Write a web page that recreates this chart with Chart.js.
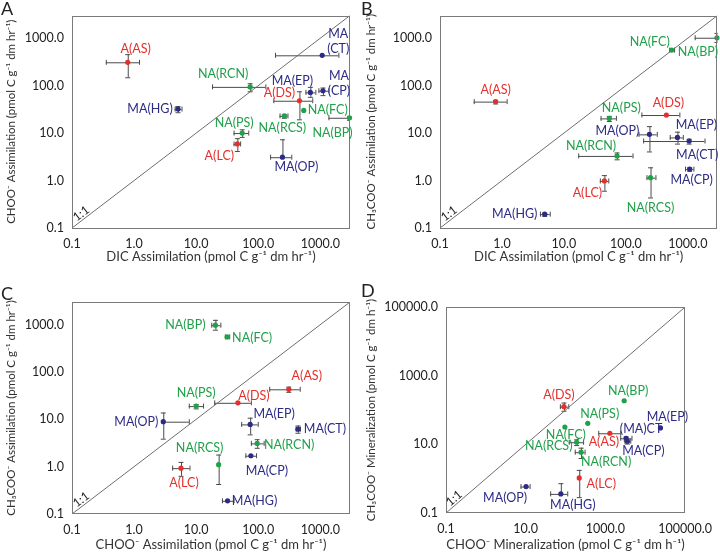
<!DOCTYPE html>
<html>
<head>
<meta charset="utf-8">
<script src="https://cdn.jsdelivr.net/npm/chart.js@4.4.1/dist/chart.umd.min.js"></script>
<style>
  body { margin: 0; background: #fff; }
  #wrap { position: relative; width: 720px; height: 559px; overflow: hidden; }
  canvas { position: absolute; }
</style>
</head>
<body>
<div id="wrap">
  <canvas id="chartA" width="360" height="279" style="left:0;top:0"></canvas>
  <canvas id="chartB" width="360" height="279" style="left:360px;top:0"></canvas>
  <canvas id="chartC" width="360" height="280" style="left:0;top:279px"></canvas>
  <canvas id="chartD" width="360" height="280" style="left:360px;top:279px"></canvas>
</div>
<script>
// Panel A - CHOO- vs DIC assimilation
const aNames = ['A(AS)', 'MA(HG)', 'NA(RCN)', 'NA(PS)', 'A(LC)', 'MA(OP)', 'NA(RCS)', 'NA(FC)', 'A(DS)', 'MA(EP)', 'MA\n(CP)', 'MA\n(CT)', 'NA(BP)'];
const aX = [0.79, 5.1, 74, 55, 46, 245, 263, 540, 460, 690, 1100, 1070, 2950];
const aY = [310, 32, 94, 10, 5.9, 3.1, 23, 30, 48, 72, 78, 435, 21];
const aXErr = [[0.35, 1.2], [4.5, 5.8], [18, 130], [40, 69], [40, 51], [155, 340], [220, 295], null, [175, 740], [575, 830], [930, 1350], [186, 1950], [1350, 4000]];
const aYErr = [[150, 460], [27.5, 37], [76, 112], [8.3, 12], [4.2, 7.8], [null, 7.4], [21, 25], null, [19.5, 76], [58, 94], [63, 91], null, [19, 23]];

// Panel B - CH3COO- vs DIC assimilation
const bNames = ['A(AS)', 'NA(FC)', 'NA(BP)', 'NA(PS)', 'A(DS)', 'MA(OP)', 'MA(EP)', 'MA(CT)', 'NA(RCN)', 'MA(CP)', 'NA(RCS)', 'A(LC)', 'MA(HG)'];
const bX = [0.79, 550, 2950, 54, 450, 240, 680, 1050, 72, 1070, 250, 45, 4.9];
const bY = [46, 560, 1020, 20.4, 24, 9.4, 8.1, 6.8, 3.3, 1.74, 1.15, 0.98, 0.196];
const bXErr = [[0.35, 1.19], [500, 600], [1290, 4000], [39, 69], [178, 730], [160, 315], [510, 830], [190, 1860], [17, 128], [900, 1230], [215, 300], [38, 52], [4.1, 5.9]];
const bYErr = [[42, 50], null, [830, 1290], [18, 23], null, [4.1, 14], [6.0, 10.7], [6.0, 7.6], [2.8, 3.9], [1.6, 1.9], [0.44, 1.9], [0.61, 1.3], [0.18, 0.21]];

// Panel C - CH3COO- vs CHOO- assimilation
const cNames = ['NA(BP)', 'NA(FC)', 'A(AS)', 'A(DS)', 'NA(PS)', 'MA(OP)', 'MA(EP)', 'MA(CT)', 'NA(RCN)', 'MA(CP)', 'NA(RCS)', 'A(LC)', 'MA(HG)'];
const cX = [20.4, 31.5, 310, 47, 10, 2.95, 74, 435, 96, 76, 23, 5.7, 32];
const cY = [970, 550, 43, 22.3, 19, 8.9, 7.8, 6.2, 3.1, 1.7, 1.1, 0.93, 0.19];
const cXErr = [[17.5, 24.5], [29, 34], [150, 465], [19.5, 76], [7.6, 12.9], [null, 7.6], [53, 98], [400, 470], [76, 122], [62, 92], null, [4.1, 7.8], [26, 40]];
const cYErr = [[780, 1260], null, [38, 49], null, [17, 21], [3.9, 13.9], [4.8, 10.8], [5.2, 7.4], [2.5, 3.8], null, [0.43, 1.8], [0.64, 1.26], null];

// Panel D - mineralization
const dNames = ['A(DS)', 'NA(BP)', 'NA(PS)', 'MA(EP)', 'NA(FC)', 'A(AS)', '(MA)CT', 'MA(CP)', 'NA(RCS)', 'NA(RCN)', 'A(LC)', 'MA(OP)', 'MA(HG)'];
const dX = [91, 2950, 360, 24000, 96, 1290, 3300, 3550, 190, 245, 220, 10.2, 76];
const dY = [125, 186, 41, 30, 32, 21, 15, 12.3, 11.5, 5.9, 1.05, 0.59, 0.36];
const dXErr = [[72, 117], null, null, null, null, [660, 2350], [2350, 4500], [3000, 4200], [120, 275], [170, 300], null, [7.4, 12.5], [41, 110]];
const dYErr = [[95, 165], null, null, null, null, null, [13, 17], [10.5, 14], [9.5, 14], [4, 8], [0.29, 1.8], null, [null, 0.74]];

const abcTicks = [0.1, 1, 10, 100, 1000];
const dTicks = [0.1, 10, 1000, 100000];

// label offsets (px from the marker to the label centre)
const aLabelPos = [[8, -13], [-28, 0], [-27, -13], [-8, -10], [-18, 12], [14, 10], [-2, 12], [24, 0], [-20, -8], [-18, -11], [16, -7], [16, -14], [-17, 15]];
const bLabelPos = [[0, -12], [-22, -8], [-19, 14], [12, -10], [2, -12], [-32, -3], [19, -12], [8, 14], [-26, -10], [2, 11], [0, 30], [-17, 12], [-30, 0]];
const cLabelPos = [[-30, 0], [25, 1], [18, -13], [16, -7], [0, -13], [-27, 0], [24, -10], [27, 0], [32, 2], [16, 15], [-19, -17], [3, 15], [27, 0]];
const dLabelPos = [[-5, -12], [4, -10], [12, -9], [7, -11], [1, 8], [-6, 9], [15, -9], [16, 10], [-28, 4], [25, 10], [22, 6], [-21, 11], [12, 11]];

const FONT = 'Lato, "Open Sans", sans-serif';
const RED = '#e3302c';
const GREEN = '#21a04a';
const NAVY = '#2d2b85';

function groupColor(name) {
    if (name.startsWith('NA')) return GREEN;
    if (name.startsWith('A')) return RED;
    return NAVY;
}

function fmt(v) {
    return Number(v).toFixed(1);
}

function panelPlugin(p) {
    return {
        id: 'panel' + p.letter,
        beforeDatasetsDraw(chart) {
            const { ctx, chartArea: ca, scales: { x, y } } = chart;
            ctx.save();
            ctx.beginPath();
            ctx.rect(ca.left, ca.top, ca.width, ca.height);
            ctx.clip();
            ctx.strokeStyle = '#4a4a4a';
            ctx.lineWidth = 1;
            const cap = 2.5;
            p.xs.forEach((xv, i) => {
                const px = x.getPixelForValue(xv);
                const py = y.getPixelForValue(p.ys[i]);
                const xe = p.xErr[i];
                const ye = p.yErr[i];
                ctx.beginPath();
                if (xe) {
                    const x0 = xe[0] == null ? px : x.getPixelForValue(xe[0]);
                    const x1 = x.getPixelForValue(xe[1]);
                    ctx.moveTo(x0, py + 0.5); ctx.lineTo(x1, py + 0.5);
                    if (xe[0] != null) { ctx.moveTo(x0 + 0.5, py - cap); ctx.lineTo(x0 + 0.5, py + cap); }
                    ctx.moveTo(x1 + 0.5, py - cap); ctx.lineTo(x1 + 0.5, py + cap);
                }
                if (ye) {
                    const y0 = ye[0] == null ? py : y.getPixelForValue(ye[0]);
                    const y1 = y.getPixelForValue(ye[1]);
                    ctx.moveTo(px + 0.5, y0); ctx.lineTo(px + 0.5, y1);
                    if (ye[0] != null) { ctx.moveTo(px - cap, y0 + 0.5); ctx.lineTo(px + cap, y0 + 0.5); }
                    ctx.moveTo(px - cap, y1 + 0.5); ctx.lineTo(px + cap, y1 + 0.5);
                }
                ctx.stroke();
            });
            ctx.restore();
        },
        afterDatasetsDraw(chart) {
            const { ctx, chartArea: ca, scales: { x, y } } = chart;
            ctx.save();
            // plot frame
            ctx.strokeStyle = '#7a7a7a';
            ctx.lineWidth = 1;
            ctx.strokeRect(Math.round(ca.left) + 0.5, Math.round(ca.top) + 0.5, Math.round(ca.width) - 1, Math.round(ca.height) - 1);

            // point labels
            ctx.font = '12.5px ' + FONT;
            ctx.textAlign = 'center';
            ctx.textBaseline = 'middle';
            p.names.forEach((name, i) => {
                const px = x.getPixelForValue(p.xs[i]) + p.labelPos[i][0];
                const py = y.getPixelForValue(p.ys[i]) + p.labelPos[i][1];
                ctx.fillStyle = groupColor(name);
                const lines = name.split('\n');
                lines.forEach((ln, k) => {
                    ctx.fillText(ln, px, py + (k - (lines.length - 1) / 2) * 15);
                });
            });

            // 1:1 label along the diagonal
            const x0 = x.getPixelForValue(0.1), y0 = y.getPixelForValue(0.1);
            const x1 = x.getPixelForValue(p.max), y1 = y.getPixelForValue(p.max);
            const ang = Math.atan2(y1 - y0, x1 - x0);
            ctx.translate(x.getPixelForValue(p.oneAt), y.getPixelForValue(p.oneAt));
            ctx.rotate(ang);
            ctx.fillStyle = '#222';
            ctx.font = '12px ' + FONT;
            ctx.textBaseline = 'alphabetic';
            ctx.fillText('1:1', 0, -2);
            ctx.restore();

            // panel letter
            ctx.save();
            ctx.fillStyle = '#222';
            ctx.font = '18px ' + FONT;
            ctx.textBaseline = 'top';
            ctx.textAlign = 'left';
            ctx.fillText(p.letter, 1, p.letterY);
            ctx.restore();
        }
    };
}

function makePanel(id, p) {
    const points = p.xs.map((v, i) => ({ x: v, y: p.ys[i] }));
    const axisFont = { family: FONT, size: 12.5 };
    return new Chart(document.getElementById(id), {
        type: 'scatter',
        data: {
            datasets: [
                {
                    data: points,
                    pointRadius: 2.6,
                    pointHoverRadius: 2.6,
                    pointBorderWidth: 0,
                    pointBackgroundColor: p.names.map(groupColor),
                    clip: 6,
                    order: 1
                },
                {
                    type: 'line',
                    data: [{ x: 0.1, y: 0.1 }, { x: p.max, y: p.max }],
                    borderColor: '#6e6e6e',
                    borderWidth: 1,
                    pointRadius: 0,
                    order: 2
                }
            ]
        },
        options: {
            responsive: false,
            animation: false,
            layout: { padding: p.pad },
            plugins: { legend: { display: false }, tooltip: { enabled: false } },
            scales: {
                x: {
                    type: 'logarithmic',
                    min: 0.1,
                    max: p.max,
                    grid: { display: false, drawTicks: false },
                    border: { display: false },
                    afterBuildTicks: s => { s.ticks = p.ticks.map(v => ({ value: v })); },
                    afterFit: s => { s.height = p.xh; },
                    ticks: { callback: fmt, font: axisFont, color: '#222', padding: 8, maxRotation: 0, autoSkip: false },
                    title: { display: true, text: p.xTitle, color: '#333', font: { family: FONT, size: 13 }, padding: { top: 4, bottom: 4 } }
                },
                y: {
                    type: 'logarithmic',
                    min: 0.1,
                    max: p.max,
                    grid: { display: false, drawTicks: false },
                    border: { display: false },
                    afterBuildTicks: s => { s.ticks = p.ticks.map(v => ({ value: v })); },
                    afterFit: s => { s.width = p.yw; },
                    ticks: { callback: fmt, font: axisFont, color: '#222', padding: 8, autoSkip: false },
                    title: { display: true, text: p.yTitle, color: '#333', font: { family: FONT, size: 11.5 }, padding: { top: 4, bottom: 4 } }
                }
            }
        },
        plugins: [panelPlugin(p)]
    });
}

const unitsHr = ' (pmol C g\u207B\u00B9 dm hr\u207B\u00B9)';
const unitsH = ' (pmol C g\u207B\u00B9 dm h\u207B\u00B9)';

makePanel('chartA', {
    letter: 'A', letterY: 0, names: aNames, xs: aX, ys: aY, xErr: aXErr, yErr: aYErr, labelPos: aLabelPos,
    max: 3000, ticks: abcTicks, oneAt: 0.16,
    xTitle: 'DIC Assimilation' + unitsHr, yTitle: 'CHOO\u207B Assimilation' + unitsHr,
    pad: { left: 0, right: 10, top: 15, bottom: 10 }, yw: 72, xh: 41
});
makePanel('chartB', {
    letter: 'B', letterY: 0, names: bNames, xs: bX, ys: bY, xErr: bXErr, yErr: bYErr, labelPos: bLabelPos,
    max: 3000, ticks: abcTicks, oneAt: 0.16,
    xTitle: 'DIC Assimilation' + unitsHr, yTitle: 'CH\u2083COO\u207B Assimilation' + unitsHr,
    pad: { left: 0, right: 2, top: 15, bottom: 10 }, yw: 80, xh: 41
});
makePanel('chartC', {
    letter: 'C', letterY: 6, names: cNames, xs: cX, ys: cY, xErr: cXErr, yErr: cYErr, labelPos: cLabelPos,
    max: 3000, ticks: abcTicks, oneAt: 0.16,
    xTitle: 'CHOO\u207B Assimilation' + unitsHr, yTitle: 'CH\u2083COO\u207B Assimilation' + unitsHr,
    pad: { left: 0, right: 10, top: 23, bottom: 2 }, yw: 72, xh: 43
});
makePanel('chartD', {
    letter: 'D', letterY: 3, names: dNames, xs: dX, ys: dY, xErr: dXErr, yErr: dYErr, labelPos: dLabelPos,
    max: 100000, ticks: dTicks, oneAt: 0.2,
    xTitle: 'CHOO\u207B Mineralization' + unitsH, yTitle: 'CH\u2083COO\u207B Mineralization' + unitsH,
    pad: { left: 0, right: 26, top: 28, bottom: 2 }, yw: 86, xh: 44
});
</script>
</body>
</html>
